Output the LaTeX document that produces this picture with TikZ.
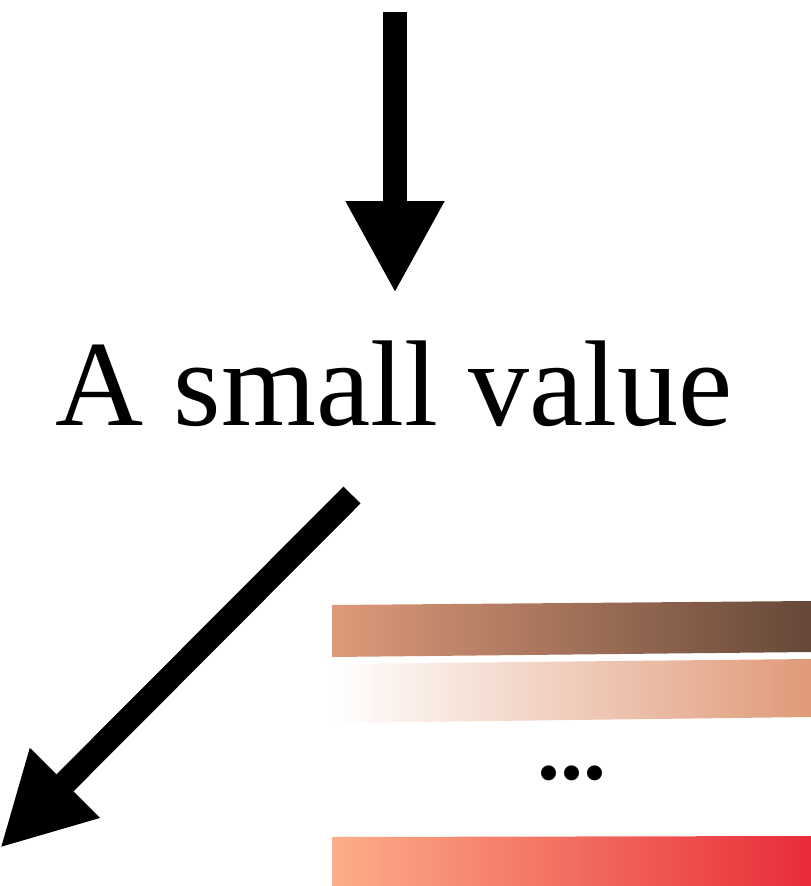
\documentclass[tikz,border=0pt]{standalone}
\usepackage{fontspec}
\setmainfont{Liberation Serif}
\usetikzlibrary{arrows.meta}
\definecolor{bar_one_left}{HTML}{DE9A7A}
\definecolor{bar_one_right}{HTML}{654838}
\definecolor{bar_two_right}{HTML}{E09A78}
\definecolor{bar_last_left}{HTML}{FCAE8A}
\definecolor{bar_last_right}{HTML}{E82C38}

\begin{document}
\begin{tikzpicture}[
    x=1pt, y=-1pt,
    >={Triangle[length=92pt, width=92pt]},
    bigarrow/.style={->, line width=24pt},
    big_text/.style={
        font=\fontsize{122}{130}\selectfont,
        inner sep=0pt,
        anchor=base
    },
    dots_text/.style={
        font=\fontsize{92}{94}\selectfont\bfseries,
        inner sep=0pt,
        anchor=base
    }
]
\useasboundingbox (0,0) rectangle (811,886);

\coordinate (top) at (395,12);
\node[big_text] (value) at (394,425) {A small value};
\coordinate (start) at (352,495);
\coordinate (corner) at (0,848);

\draw[bigarrow, shorten >=47pt] (top) -- (top |- value.north);
\draw[bigarrow] (start) -- (corner);

% gradient bars
\shade[left color=bar_one_left, right color=bar_one_right]
    (332,605) -- (811,601) -- (811,652) -- (332,657) -- cycle;
\shade[left color=white, right color=bar_two_right]
    (332,664) -- (811,659) -- (811,717) -- (332,723) -- cycle;
\node[dots_text] (dots) at (572,779) {...};
\shade[left color=bar_last_left, right color=bar_last_right]
    (332,837) -- (811,836) -- (811,886) -- (332,886) -- cycle;

\end{tikzpicture}
\end{document}
